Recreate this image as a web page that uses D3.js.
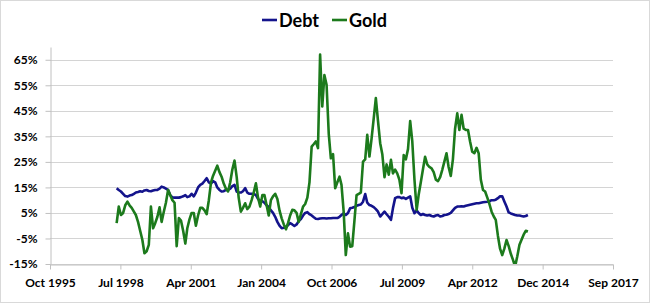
<!DOCTYPE html>
<html>
<head>
<meta charset="utf-8">
<script src="https://cdn.jsdelivr.net/npm/d3@7"></script>
<style>
  body { margin: 0; background: #fff; }
  text { font-family: Lato, "Open Sans", sans-serif; font-weight: bold; fill: #000; }
</style>
</head>
<body>
<div id="chart"></div>
<script>
/* Debt vs Gold returns line chart */

// monthly values, first point = June 1998
const startMonth = "1998-06";

const debt = [
  14.7, 14, 13.4, 12.5, 11.6, 11.4, 11.8,                       // 1998
  12, 12.5, 13, 13.2, 13.5, 13.3, 13.8, 14, 13.6, 13.5, 13.8, 14, // 1999
  14, 14.5, 15.3, 15, 14.5, 14, 12, 11.1, 11, 11, 11, 11.2,       // 2000
  11.5, 12, 11.2, 11.5, 12.5, 11.5, 13, 15, 16, 16.5, 17.5, 18.6, // 2001
  17, 16.5, 17.5, 17, 15, 14, 13.4, 13.5, 14, 14, 14.5, 15.5,     // 2002
  16, 13.4, 13, 13, 13.5, 14.7, 13, 12.5, 12.5, 12.5, 12, 10.5,   // 2003
  9.8, 9.6, 9, 8, 7.3, 6, 5, 3.5, 1.5, 0, -1, -0.8,               // 2004
  -0.5, 0.3, 1, 0.5, -0.1, 0.5, 1.8, 2.6, 4, 5, 5.3, 4.5,         // 2005
  4, 3.3, 2.7, 2.6, 2.8, 2.9, 2.9, 2.8, 2.9, 2.9, 3, 3,           // 2006
  3, 3.5, 4.2, 4.9, 4.2, 5, 6.8, 7, 7.3, 7.8, 8.1, 8.3,           // 2007
  9.4, 12.4, 9, 8.1, 7.8, 7.3, 6.5, 5.5, 3.6, 4.5, 5.5, 4.5,      // 2008
  3.5, 2.3, 6.8, 10.8, 11.2, 11.2, 10.8, 11, 10.5, 11, 11.5, 7,   // 2009
  4.9, 6, 5, 4.2, 4.6, 4.2, 4, 4.2, 3.8, 3.6, 4, 4.2,             // 2010
  3.6, 3.8, 4.2, 4.3, 4.6, 5, 6, 7, 7.5, 7.5, 7.6, 7.5,           // 2011
  7.8, 8, 8.2, 8.4, 8.6, 8.8, 8.8, 9, 9.2, 9.3, 9.4, 9.6,         // 2012
  10, 10, 10.2, 10.8, 11.5, 11.5, 9.5, 7.5, 5.2, 4.8, 4.5, 4.2,   // 2013
  4, 4, 3.8, 3.6, 3.8, 4.2                                        // 2014
];

const gold = [
  1, 7.5, 4.2, 5, 8, 9.4, 8,                                      // 1998
  7, 5.5, 4.2, 1.5, -2, -5.5, -10.8, -10, -7.5, 7.5, -1, 1,       // 1999
  3.5, 7.2, 1.5, 5.5, 9, 14, 12, 10, 9, -8, 3, 2,                 // 2000
  -2, -7, -1, 2.5, 5, 5, 0, 4, 7, 7, 6, 4.5,                      // 2001
  10, 17, 19.5, 21.5, 23.5, 21, 19.2, 16.5, 14.5, 13.4, 17, 22,   // 2002
  25.5, 19, 11, 5.5, 7, 8.8, 6.5, 7.5, 10, 13, 16.6, 11,          // 2003
  7.5, 12, 12, 8, 4, 10, 11.5, 12.5, 10.5, 6, 2.9, 0.5,           // 2004
  -1.4, 1.2, 4, 6.2, 6, 5, 1.5, 4.5, 7.5, 8.5, 11, 17,            // 2005
  31, 32, 33, 30.4, 67, 46.7, 59, 55.2, 36, 26.4, 28, 14.7,       // 2006
  17, 19.2, 16, 5.5, -11.5, -3, -8.2, -8, 2, 12, 12.5, 13,        // 2007
  25.1, 26, 35.6, 27.1, 34, 42, 50, 41, 32.3, 28, 19, 24,         // 2008
  20, 25.8, 20.5, 22, 20.5, 18, 12.7, 27.7, 26, 30, 41, 33,       // 2009
  18, 6.2, 12, 17, 22, 27, 24, 23, 22.5, 21, 18, 17.5,            // 2010
  19, 22, 25, 28.4, 23, 19.5, 26, 38, 44, 37.5, 43.4, 38,         // 2011
  37.5, 37.5, 33, 29, 28.4, 30.5, 28.4, 18, 14, 13.4, 11, 8.5,    // 2012
  5.5, 3.6, 2.3, -4, -9, -11.5, -9, -5.6, -8, -11, -13.4, -16,    // 2013
  -12, -7.5, -5.6, -3.5, -2, -2.3                                 // 2014
];

const seriesNames = ["Debt", "Gold"];
const seriesColors = ["#14148c", "#1c7a1c"];

const yTicks = [-15, -5, 5, 15, 25, 35, 45, 55, 65];
const yMax = 70;

// date axis: 1000-day steps
const xTickDates = ["1995-10-28", "1998-07-24", "2001-04-19", "2004-01-14", "2006-10-10",
                    "2009-07-06", "2012-04-01", "2014-12-27", "2017-09-22"];
const xTickLabels = ["Oct 1995", "Jul 1998", "Apr 2001", "Jan 2004", "Oct 2006",
                     "Jul 2009", "Apr 2012", "Dec 2014", "Sep 2017"];

const width = 650,
      height = 303,
      margin = ({ top: 47, right: 37, bottom: 39, left: 50 });

const parseDay = d3.utcParse("%Y-%m-%d");
const start = d3.utcParse("%Y-%m")(startMonth);
const tickDates = xTickDates.map(parseDay);

const series = [debt, gold].map((vals, i) => ({
    name: seriesNames[i],
    color: seriesColors[i],
    values: vals.map((v, j) => ({ date: d3.utcMonth.offset(start, j), value: v }))
}));

let svg = d3.select("#chart")
    .append("svg")
    .attr("width", width)
    .attr("height", height);

svg.append("rect")
    .attr("x", 0.5).attr("y", 0.5)
    .attr("width", width - 1).attr("height", height - 1)
    .attr("fill", "#fff")
    .attr("stroke", "#d9d9d9");

let x = d3.scaleUtc()
    .domain([tickDates[0], tickDates[tickDates.length - 1]])
    .range([margin.left, width - margin.right]);

let y = d3.scaleLinear()
    .domain([yTicks[0], yMax])
    .range([height - margin.bottom, margin.top]);

// gridlines
svg.append("g")
    .selectAll("line")
    .data(yTicks)
    .join("line")
    .attr("x1", margin.left)
    .attr("x2", width - margin.right)
    .attr("y1", d => Math.round(y(d)) + 0.5)
    .attr("y2", d => Math.round(y(d)) + 0.5)
    .attr("stroke", "#d4d4d4");

let yAxis = svg.append("g")
    .attr("transform", `translate(${margin.left + 0.5},0)`)
    .call(d3.axisLeft(y).tickValues(yTicks).tickFormat(d => d + "%").tickSize(5).tickPadding(8).tickSizeOuter(0));

let xAxis = svg.append("g")
    .attr("transform", `translate(0,${Math.round(height - margin.bottom) + 0.5})`)
    .call(d3.axisBottom(x).tickValues(tickDates).tickFormat((d, i) => xTickLabels[i]).tickSize(5).tickPadding(9).tickSizeOuter(0));

[yAxis, xAxis].forEach(g => {
    g.select(".domain").attr("stroke", "#c0c0c0");
    g.selectAll(".tick line").attr("stroke", "#c0c0c0");
    g.selectAll(".tick text")
        .style("font-family", "Lato, 'Open Sans', sans-serif")
        .style("font-weight", "bold")
        .style("font-size", "12px")
        .attr("fill", "#000");
});

svg.append("clipPath")
    .attr("id", "plot-clip")
    .append("rect")
    .attr("x", margin.left)
    .attr("y", margin.top)
    .attr("width", width - margin.left - margin.right)
    .attr("height", height - margin.top - margin.bottom);

let line = d3.line()
    .x(d => x(d.date))
    .y(d => y(d.value));

svg.append("g")
    .attr("clip-path", "url(#plot-clip)")
    .selectAll("path")
    .data(series)
    .join("path")
    .attr("fill", "none")
    .attr("stroke", d => d.color)
    .attr("stroke-width", 2.6)
    .attr("stroke-linejoin", "round")
    .attr("d", d => line(d.values));

// legend
let legend = svg.append("g")
    .selectAll("g")
    .data(series)
    .join("g")
    .attr("transform", (d, i) => `translate(${262 + i * 70},20)`);

legend.append("line")
    .attr("x1", 0).attr("x2", 15)
    .attr("stroke", d => d.color)
    .attr("stroke-width", 2.6);

legend.append("text")
    .attr("x", 17)
    .attr("y", 7)
    .style("font-size", "18px")
    .text(d => d.name);
</script>
</body>
</html>
